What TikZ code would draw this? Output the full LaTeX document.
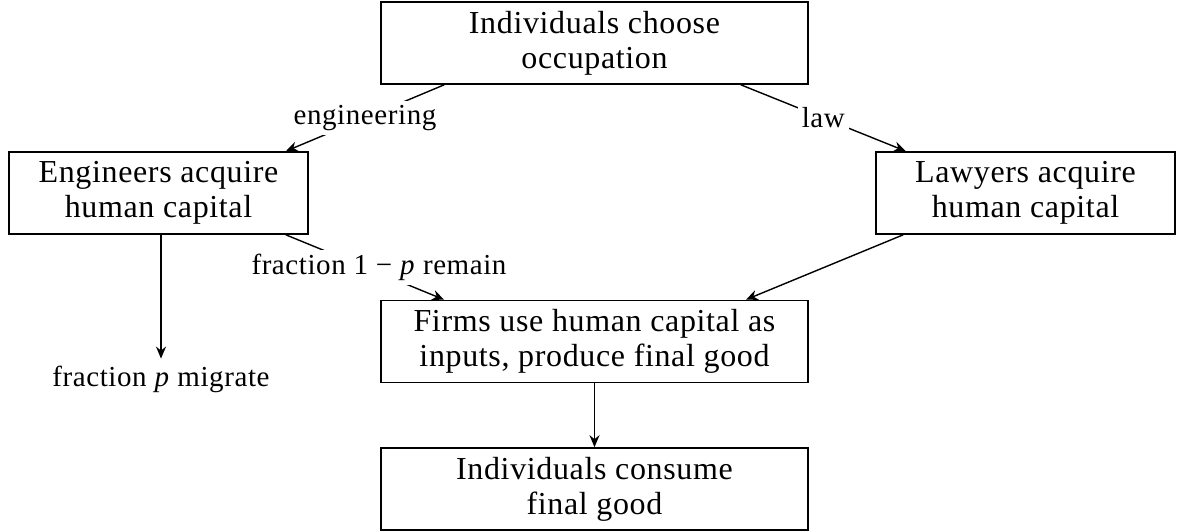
\documentclass[tikz,border=0pt]{standalone}
\usepackage{fontspec}
\setmainfont[LetterSpace=2]{Liberation Serif}
\usetikzlibrary{arrows.meta,positioning,calc}

\tikzset{
  stage/.style={rectangle, draw, line width=0.8pt, align=center, minimum width=213.5pt, minimum height=41pt, inner sep=2pt, font=\fontsize{16}{17.5}\selectfont},
  group/.style={stage, minimum width=149.5pt},
  flow/.style={-{Stealth[length=6pt,width=5pt]}, line width=0.7pt},
  lbl/.style={fill=white, inner sep=2pt}
}

\begin{document}
\begin{tikzpicture}[x=0.5pt, y=-0.5pt, font=\fontsize{14.5}{17.5}\selectfont]
\useasboundingbox (0,0) rectangle (1182,531);
\node[stage] (choose) at (594.5,43) {Individuals choose\\occupation};
\node[group] (eng) at (158.5,193) {Engineers acquire\\human capital};
\node[group] (law) at (1025.5,193) {Lawyers acquire\\human capital};
\node[stage] (firms) at (594.5,341.5) {Firms use human capital as\\inputs, produce final good};
\node[stage] (consume) at (594.5,489) {Individuals consume\\final good};
\node (migrate) at (161,379) {fraction \textit{p} migrate};
\draw[flow] ([xshift=32pt]choose.south west) -- node[lbl] {engineering} ([xshift=-11.5pt]eng.north east);
\draw[flow] ([xshift=-34pt]choose.south east) -- node[lbl] {law} ([xshift=-135pt]law.north east);
\draw[flow] ([xshift=-11.5pt]eng.south east) -- node[lbl, xshift=7pt] {fraction 1 − \textit{p} remain} ([xshift=32pt]firms.north west);
\draw[flow] ([xshift=14pt]law.south west) -- ([xshift=-31.5pt]firms.north east);
\draw[flow] (eng.south -| migrate) -- (migrate);
\draw[flow] (firms) -- (consume);
\end{tikzpicture}
\end{document}
